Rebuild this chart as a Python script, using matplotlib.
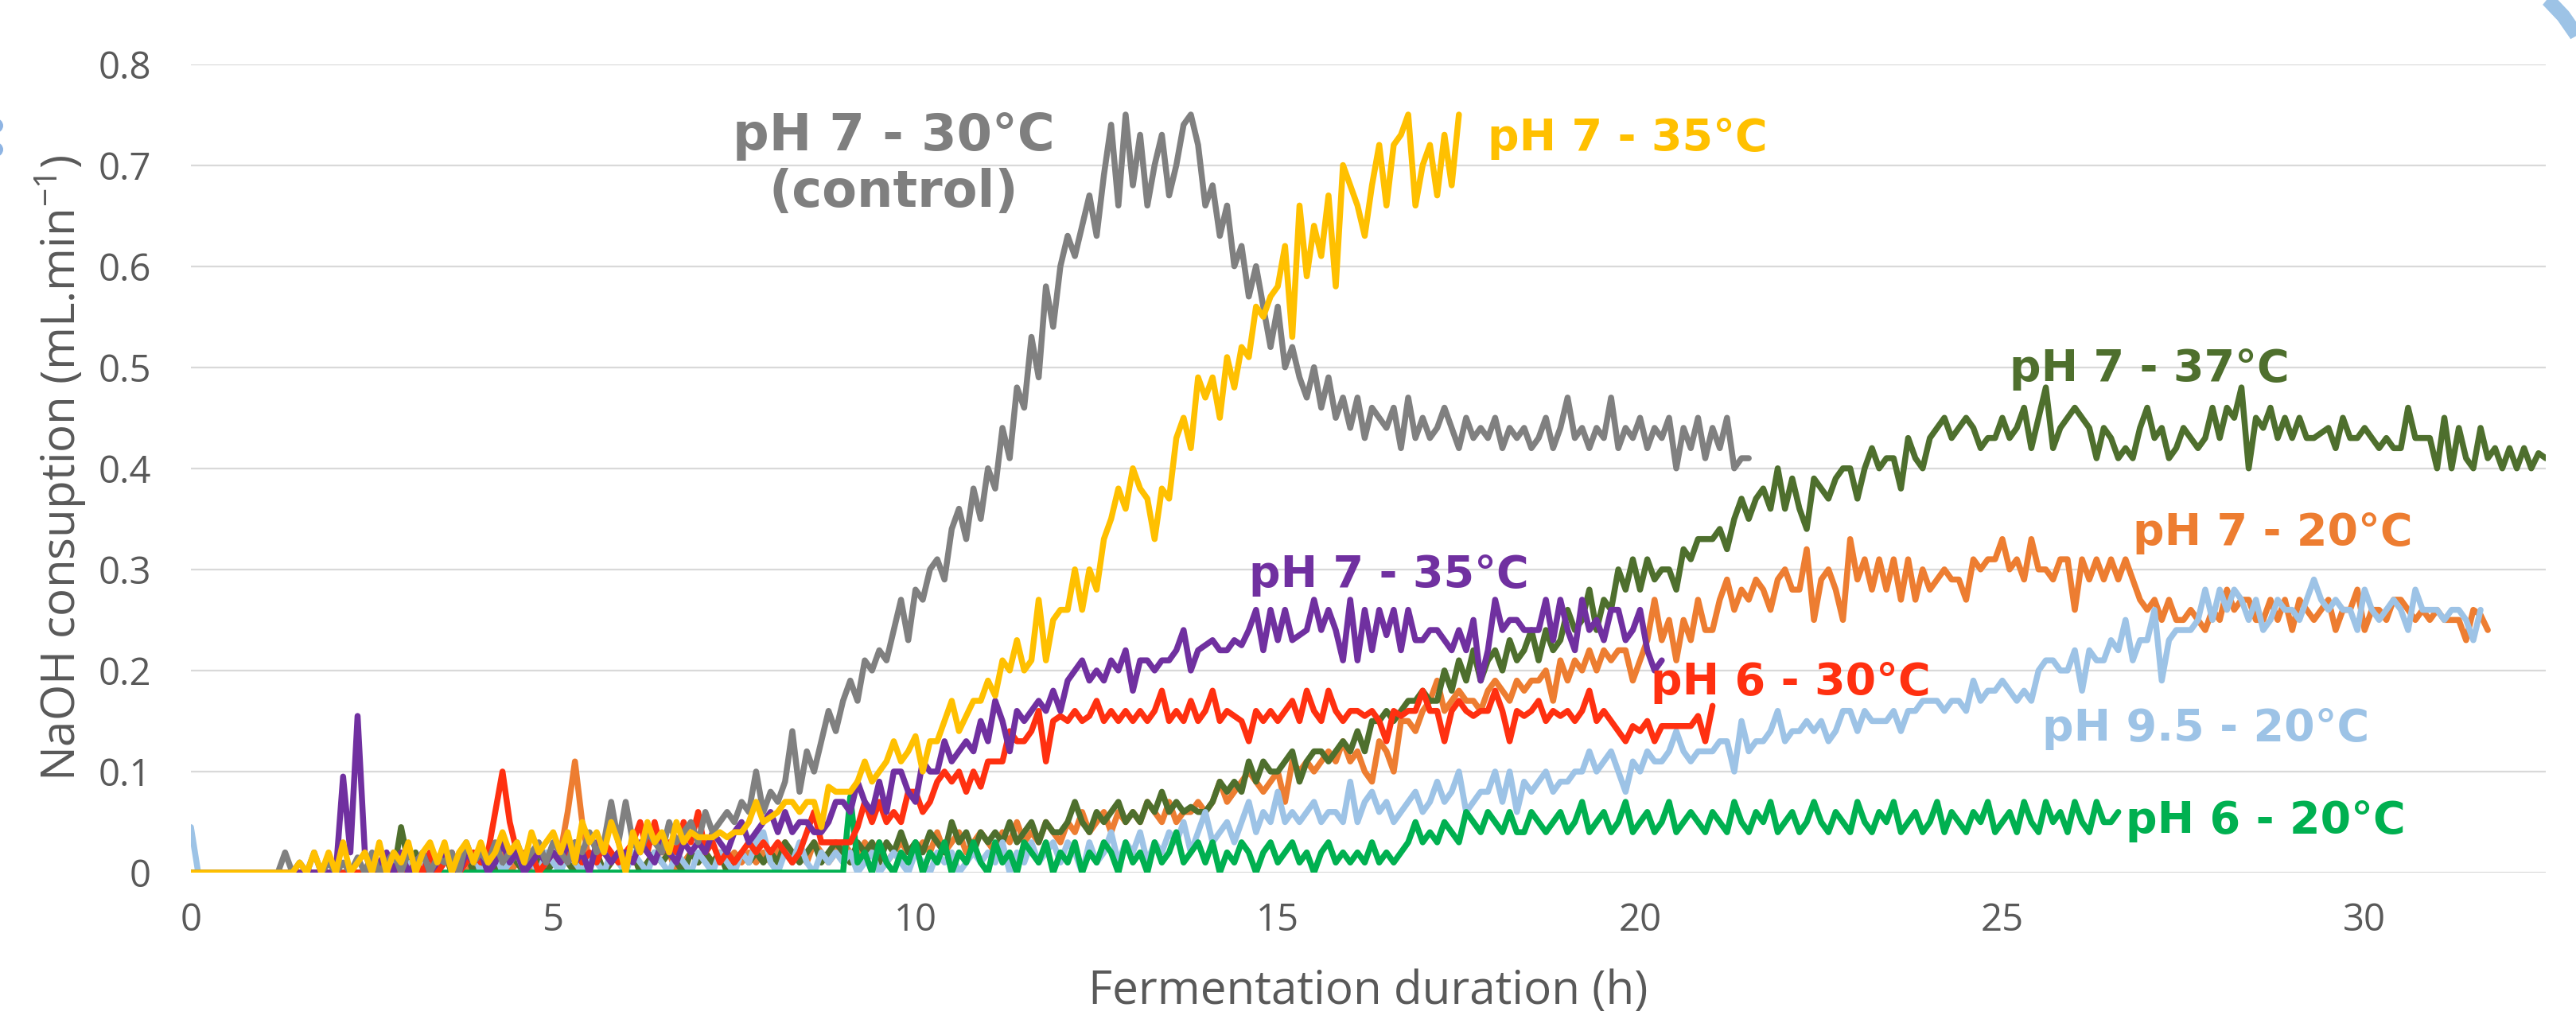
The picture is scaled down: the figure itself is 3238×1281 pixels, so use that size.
import numpy as np
import matplotlib
matplotlib.use("Agg")
import matplotlib.pyplot as plt
from matplotlib.lines import Line2D
from matplotlib.patches import Ellipse

# ---------------- data (NaOH consumption, mL/min, sampled every 0.1 h from t = 0) ----------------
sample_step_h = 0.1

ph7_30_control = [
    0, 0, 0, 0, 0, 0, 0, 0, 0, 0,
    0, 0, 0, 0.02, 0, 0.01, 0, 0.02, 0, 0.01,
    0, 0.01, 0, 0.015, 0, 0.02, 0, 0.01, 0.02, 0,
    0.02, 0.01, 0.02, 0, 0.015, 0.01, 0.02, 0, 0.03, 0.01,
    0.02, 0.01, 0.03, 0.01, 0.02, 0.03, 0.01, 0.02, 0.03, 0.01,
    0.03, 0.02, 0.01, 0.03, 0.02, 0.04, 0.02, 0.03, 0.07, 0.03,
    0.07, 0.03, 0.02, 0.04, 0.03, 0.02, 0.05, 0.03, 0.04, 0.05,
    0.03, 0.06, 0.04, 0.05, 0.06, 0.05, 0.07, 0.06, 0.10, 0.06,
    0.08, 0.07, 0.09, 0.14, 0.08, 0.12, 0.10, 0.13, 0.16, 0.14,
    0.17, 0.19, 0.17, 0.21, 0.20, 0.22, 0.21, 0.24, 0.27, 0.23,
    0.28, 0.27, 0.30, 0.31, 0.29, 0.34, 0.36, 0.33, 0.38, 0.35,
    0.40, 0.38, 0.44, 0.41, 0.48, 0.46, 0.53, 0.49, 0.58, 0.54,
    0.60, 0.63, 0.61, 0.64, 0.67, 0.63, 0.69, 0.74, 0.66, 0.75,
    0.68, 0.73, 0.66, 0.70, 0.73, 0.67, 0.70, 0.74, 0.75, 0.72,
    0.66, 0.68, 0.63, 0.66, 0.60, 0.62, 0.57, 0.60, 0.56, 0.52,
    0.56, 0.50, 0.52, 0.49, 0.47, 0.50, 0.46, 0.49, 0.45, 0.47,
    0.44, 0.47, 0.43, 0.46, 0.45, 0.44, 0.46, 0.42, 0.47, 0.43,
    0.45, 0.43, 0.44, 0.46, 0.44, 0.42, 0.45, 0.43, 0.44, 0.43,
    0.45, 0.42, 0.44, 0.43, 0.44, 0.42, 0.43, 0.45, 0.42, 0.44,
    0.47, 0.43, 0.44, 0.42, 0.44, 0.43, 0.47, 0.42, 0.44, 0.43,
    0.45, 0.42, 0.44, 0.43, 0.45, 0.40, 0.44, 0.42, 0.45, 0.41,
    0.44, 0.42, 0.45, 0.40, 0.41, 0.41,
]

ph7_35_yellow = [
    0, 0, 0, 0, 0, 0, 0, 0, 0, 0,
    0, 0, 0, 0, 0, 0.01, 0, 0.02, 0, 0.02,
    0, 0.03, 0, 0.01, 0.02, 0, 0.03, 0, 0.02, 0.01,
    0.03, 0, 0.02, 0.03, 0.01, 0.03, 0, 0.02, 0.03, 0.01,
    0.03, 0.01, 0.02, 0.04, 0.02, 0.03, 0.01, 0.04, 0.02, 0.03,
    0.04, 0.02, 0.04, 0.01, 0.05, 0.03, 0.04, 0.02, 0.05, 0.03,
    0, 0.04, 0.02, 0.05, 0.03, 0.04, 0.02, 0.05, 0.03, 0.04,
    0.035, 0.035, 0.035, 0.04, 0.035, 0.04, 0.04, 0.05, 0.07, 0.05,
    0.055, 0.06, 0.07, 0.07, 0.06, 0.07, 0.07, 0.045, 0.085, 0.08,
    0.08, 0.08, 0.09, 0.11, 0.09, 0.10, 0.11, 0.13, 0.11, 0.12,
    0.135, 0.10, 0.13, 0.13, 0.15, 0.17, 0.14, 0.155, 0.17, 0.17,
    0.19, 0.175, 0.21, 0.20, 0.23, 0.20, 0.21, 0.27, 0.21, 0.25,
    0.26, 0.26, 0.30, 0.26, 0.30, 0.28, 0.33, 0.35, 0.38, 0.36,
    0.40, 0.38, 0.37, 0.33, 0.38, 0.37, 0.43, 0.45, 0.42, 0.49,
    0.47, 0.49, 0.45, 0.51, 0.48, 0.52, 0.51, 0.56, 0.55, 0.57,
    0.58, 0.62, 0.53, 0.66, 0.59, 0.64, 0.61, 0.67, 0.58, 0.70,
    0.68, 0.66, 0.63, 0.68, 0.72, 0.66, 0.72, 0.73, 0.75, 0.66,
    0.70, 0.72, 0.67, 0.73, 0.68, 0.75,
]

ph7_35_purple = [
    0, 0, 0, 0, 0, 0, 0, 0, 0, 0,
    0, 0, 0, 0, 0, 0, 0, 0, 0, 0,
    0, 0.095, 0.02, 0.155, 0.02, 0, 0.01, 0.02, 0, 0.02,
    0, 0.01, 0.02, 0, 0.01, 0.02, 0.01, 0, 0.02, 0.01,
    0.02, 0, 0.01, 0.03, 0.01, 0.02, 0, 0.01, 0.02, 0.01,
    0.02, 0.01, 0.03, 0.01, 0.02, 0, 0.03, 0.02, 0.01, 0.02,
    0.02, 0.01, 0.03, 0.02, 0.01, 0.03, 0.02, 0.01, 0.03, 0.02,
    0.03, 0.02, 0.04, 0.03, 0.02, 0.04, 0.05, 0.03, 0.04, 0.05,
    0.06, 0.04, 0.06, 0.04, 0.05, 0.05, 0.04, 0.04, 0.05, 0.07,
    0.07, 0.06, 0.09, 0.07, 0.06, 0.09, 0.06, 0.10, 0.10, 0.08,
    0.07, 0.11, 0.10, 0.10, 0.13, 0.11, 0.12, 0.13, 0.12, 0.15,
    0.13, 0.17, 0.15, 0.12, 0.16, 0.15, 0.16, 0.17, 0.16, 0.18,
    0.16, 0.19, 0.20, 0.21, 0.19, 0.20, 0.19, 0.21, 0.20, 0.22,
    0.18, 0.21, 0.21, 0.20, 0.21, 0.21, 0.22, 0.24, 0.20, 0.22,
    0.225, 0.23, 0.22, 0.22, 0.23, 0.225, 0.24, 0.26, 0.22, 0.26,
    0.23, 0.26, 0.23, 0.235, 0.24, 0.27, 0.24, 0.26, 0.24, 0.21,
    0.27, 0.21, 0.26, 0.22, 0.26, 0.235, 0.26, 0.22, 0.26, 0.23,
    0.23, 0.24, 0.24, 0.23, 0.22, 0.24, 0.22, 0.25, 0.19, 0.22,
    0.27, 0.24, 0.25, 0.25, 0.24, 0.24, 0.24, 0.27, 0.23, 0.27,
    0.24, 0.22, 0.27, 0.24, 0.25, 0.23, 0.26, 0.26, 0.23, 0.24,
    0.26, 0.22, 0.20, 0.21,
]

ph6_30_red = [
    0, 0, 0, 0, 0, 0, 0, 0, 0, 0,
    0, 0, 0, 0, 0, 0, 0, 0, 0, 0,
    0, 0, 0, 0, 0, 0, 0, 0.01, 0, 0.01,
    0, 0.01, 0, 0.02, 0, 0.01, 0.02, 0, 0.01, 0.02,
    0.01, 0.02, 0.06, 0.10, 0.05, 0.02, 0.01, 0.02, 0, 0.01,
    0.02, 0.01, 0.02, 0.03, 0.01, 0.02, 0.01, 0.03, 0.02, 0.01,
    0.02, 0.03, 0.05, 0.02, 0.05, 0.02, 0.03, 0.02, 0.05, 0.03,
    0.06, 0.02, 0.03, 0.01, 0.02, 0.01, 0.02, 0.03, 0.02, 0.03,
    0.02, 0.03, 0.02, 0.01, 0.02, 0.04, 0.06, 0.03, 0.03, 0.03,
    0.03, 0.03, 0.045, 0.07, 0.05, 0.07, 0.05, 0.06, 0.05, 0.08,
    0.08, 0.06, 0.07, 0.09, 0.10, 0.09, 0.10, 0.08, 0.10, 0.085,
    0.11, 0.11, 0.11, 0.14, 0.13, 0.13, 0.14, 0.16, 0.11, 0.15,
    0.155, 0.15, 0.16, 0.15, 0.155, 0.17, 0.15, 0.16, 0.15, 0.16,
    0.15, 0.16, 0.15, 0.16, 0.18, 0.15, 0.16, 0.15, 0.17, 0.15,
    0.16, 0.18, 0.15, 0.16, 0.155, 0.15, 0.13, 0.16, 0.15, 0.16,
    0.15, 0.16, 0.17, 0.15, 0.18, 0.16, 0.15, 0.18, 0.16, 0.15,
    0.16, 0.16, 0.155, 0.16, 0.15, 0.13, 0.16, 0.155, 0.16, 0.16,
    0.18, 0.16, 0.16, 0.13, 0.16, 0.17, 0.16, 0.155, 0.16, 0.16,
    0.18, 0.16, 0.13, 0.16, 0.155, 0.16, 0.17, 0.15, 0.16, 0.155,
    0.16, 0.15, 0.16, 0.18, 0.15, 0.16, 0.15, 0.14, 0.13, 0.145,
    0.14, 0.15, 0.13, 0.145, 0.145, 0.145, 0.145, 0.145, 0.155, 0.13,
    0.165,
]

ph7_37_darkgreen = [
    0, 0, 0, 0, 0, 0, 0, 0, 0, 0,
    0, 0, 0, 0, 0, 0, 0, 0, 0, 0,
    0, 0, 0, 0, 0, 0, 0, 0.01, 0, 0.045,
    0.01, 0.02, 0, 0.02, 0.01, 0.02, 0, 0.01, 0.02, 0,
    0.01, 0.02, 0, 0.01, 0.02, 0.01, 0, 0.02, 0.01, 0,
    0.01, 0.02, 0.01, 0, 0.02, 0.01, 0.02, 0, 0.01, 0.02,
    0.01, 0.02, 0, 0.01, 0.02, 0.01, 0.02, 0.01, 0, 0.02,
    0.01, 0.02, 0.01, 0.02, 0, 0.01, 0.02, 0.01, 0.02, 0.01,
    0.02, 0.01, 0.03, 0.02, 0.01, 0.02, 0.03, 0.01, 0.02, 0.03,
    0.02, 0.01, 0.03, 0.02, 0.03, 0.01, 0.03, 0.02, 0.04, 0.02,
    0.03, 0.02, 0.04, 0.03, 0.02, 0.05, 0.03, 0.04, 0.02, 0.04,
    0.03, 0.04, 0.03, 0.05, 0.03, 0.04, 0.05, 0.03, 0.05, 0.04,
    0.04, 0.05, 0.07, 0.05, 0.04, 0.06, 0.05, 0.06, 0.07, 0.05,
    0.06, 0.05, 0.07, 0.06, 0.08, 0.06, 0.07, 0.06, 0.065, 0.06,
    0.06, 0.07, 0.09, 0.08, 0.09, 0.08, 0.11, 0.09, 0.11, 0.10,
    0.10, 0.11, 0.12, 0.09, 0.11, 0.12, 0.12, 0.11, 0.12, 0.13,
    0.12, 0.14, 0.12, 0.15, 0.15, 0.16, 0.15, 0.16, 0.17, 0.17,
    0.18, 0.17, 0.17, 0.20, 0.18, 0.21, 0.19, 0.22, 0.19, 0.21,
    0.22, 0.20, 0.23, 0.21, 0.22, 0.24, 0.21, 0.24, 0.22, 0.23,
    0.26, 0.24, 0.25, 0.28, 0.24, 0.27, 0.26, 0.30, 0.28, 0.31,
    0.28, 0.31, 0.29, 0.30, 0.30, 0.28, 0.32, 0.31, 0.33, 0.33,
    0.33, 0.34, 0.32, 0.35, 0.37, 0.35, 0.37, 0.38, 0.36, 0.40,
    0.36, 0.39, 0.36, 0.34, 0.39, 0.38, 0.37, 0.39, 0.40, 0.40,
    0.37, 0.40, 0.42, 0.40, 0.41, 0.41, 0.38, 0.43, 0.41, 0.40,
    0.43, 0.44, 0.45, 0.43, 0.44, 0.45, 0.44, 0.42, 0.43, 0.43,
    0.45, 0.43, 0.44, 0.46, 0.42, 0.45, 0.48, 0.42, 0.44, 0.45,
    0.46, 0.45, 0.44, 0.41, 0.44, 0.43, 0.41, 0.42, 0.41, 0.44,
    0.46, 0.43, 0.44, 0.41, 0.42, 0.44, 0.43, 0.42, 0.43, 0.46,
    0.43, 0.46, 0.45, 0.48, 0.40, 0.45, 0.44, 0.46, 0.43, 0.45,
    0.43, 0.45, 0.43, 0.43, 0.435, 0.44, 0.42, 0.45, 0.43, 0.43,
    0.44, 0.43, 0.42, 0.43, 0.42, 0.42, 0.46, 0.43, 0.43, 0.43,
    0.40, 0.45, 0.40, 0.44, 0.41, 0.40, 0.44, 0.41, 0.42, 0.40,
    0.42, 0.40, 0.42, 0.40, 0.415, 0.41,
]

ph7_20_orange = [
    0, 0, 0, 0, 0, 0, 0, 0, 0, 0,
    0, 0, 0, 0, 0, 0, 0, 0, 0, 0,
    0, 0, 0, 0, 0, 0, 0, 0, 0, 0,
    0, 0.01, 0, 0.01, 0, 0.02, 0, 0.01, 0, 0.01,
    0.02, 0, 0.01, 0.02, 0, 0.01, 0.02, 0, 0.01, 0.02,
    0.01, 0.02, 0.06, 0.11, 0.05, 0.01, 0.02, 0, 0.01, 0.02,
    0.01, 0.02, 0, 0.01, 0.02, 0.01, 0.02, 0, 0.01, 0.02,
    0.01, 0.02, 0.01, 0.02, 0.01, 0.02, 0.01, 0.02, 0.01, 0.02,
    0.01, 0.02, 0.03, 0.01, 0.02, 0.01, 0.03, 0.02, 0.01, 0.02,
    0.03, 0.02, 0.01, 0.03, 0.02, 0.03, 0.01, 0.02, 0.03, 0.02,
    0.02, 0.03, 0.02, 0.04, 0.02, 0.03, 0.04, 0.02, 0.03, 0.04,
    0.03, 0.02, 0.04, 0.03, 0.05, 0.03, 0.04, 0.03, 0.05, 0.04,
    0.03, 0.05, 0.04, 0.06, 0.04, 0.05, 0.06, 0.04, 0.06, 0.05,
    0.06, 0.05, 0.07, 0.06, 0.05, 0.07, 0.05, 0.06, 0.06, 0.07,
    0.06, 0.07, 0.09, 0.07, 0.08, 0.09, 0.10, 0.09, 0.08, 0.09,
    0.10, 0.07, 0.11, 0.10, 0.11, 0.10, 0.11, 0.12, 0.11, 0.13,
    0.11, 0.12, 0.10, 0.09, 0.13, 0.12, 0.10, 0.15, 0.15, 0.14,
    0.16, 0.17, 0.19, 0.16, 0.17, 0.18, 0.17, 0.17, 0.16, 0.18,
    0.19, 0.18, 0.17, 0.19, 0.18, 0.19, 0.19, 0.20, 0.17, 0.21,
    0.19, 0.21, 0.20, 0.22, 0.20, 0.22, 0.21, 0.22, 0.22, 0.19,
    0.21, 0.23, 0.27, 0.23, 0.25, 0.21, 0.25, 0.23, 0.27, 0.24,
    0.24, 0.27, 0.29, 0.26, 0.28, 0.27, 0.29, 0.28, 0.26, 0.29,
    0.30, 0.28, 0.28, 0.32, 0.25, 0.29, 0.30, 0.28, 0.25, 0.33,
    0.29, 0.31, 0.28, 0.31, 0.28, 0.31, 0.27, 0.31, 0.27, 0.30,
    0.28, 0.29, 0.30, 0.29, 0.29, 0.27, 0.31, 0.30, 0.31, 0.31,
    0.33, 0.30, 0.31, 0.29, 0.33, 0.30, 0.30, 0.29, 0.31, 0.31,
    0.26, 0.31, 0.29, 0.31, 0.29, 0.31, 0.29, 0.31, 0.29, 0.27,
    0.26, 0.27, 0.25, 0.27, 0.25, 0.25, 0.26, 0.25, 0.24, 0.26,
    0.25, 0.28, 0.26, 0.27, 0.27, 0.25, 0.25, 0.27, 0.25, 0.27,
    0.24, 0.27, 0.26, 0.25, 0.26, 0.27, 0.24, 0.26, 0.26, 0.28,
    0.24, 0.26, 0.26, 0.25, 0.27, 0.27, 0.26, 0.25, 0.26, 0.25,
    0.26, 0.25, 0.25, 0.25, 0.23, 0.26, 0.255, 0.24,
]

ph95_20_lightblue = [
    0.045, 0, 0, 0, 0, 0, 0, 0, 0, 0,
    0, 0, 0, 0, 0, 0, 0, 0, 0, 0,
    0, 0, 0, 0, 0, 0.01, 0, 0, 0.01, 0,
    0.01, 0, 0.01, 0, 0, 0.01, 0.02, 0, 0.01, 0.02,
    0, 0.01, 0.02, 0, 0.01, 0.02, 0, 0.01, 0, 0.02,
    0.01, 0, 0.02, 0.01, 0, 0.02, 0.01, 0, 0.02, 0.01,
    0, 0.02, 0.01, 0, 0.02, 0.01, 0, 0.02, 0.01, 0,
    0.02, 0.01, 0, 0.02, 0.01, 0, 0.02, 0.01, 0.03, 0.04,
    0.01, 0, 0.02, 0.01, 0.03, 0.01, 0, 0.02, 0.01, 0.02,
    0.01, 0.02, 0, 0.01, 0.02, 0, 0.01, 0.02, 0.01, 0,
    0.02, 0.01, 0, 0.02, 0.01, 0.02, 0, 0.01, 0.02, 0.01,
    0.02, 0.01, 0.03, 0, 0.02, 0.01, 0.03, 0.01, 0.02, 0.03,
    0.01, 0.03, 0.02, 0, 0.03, 0.01, 0.02, 0.04, 0.01, 0.03,
    0.02, 0.04, 0.01, 0.03, 0.02, 0.04, 0.03, 0.05, 0.02, 0.04,
    0.06, 0.03, 0.04, 0.05, 0.03, 0.05, 0.07, 0.04, 0.06, 0.05,
    0.08, 0.05, 0.06, 0.05, 0.06, 0.07, 0.05, 0.06, 0.06, 0.05,
    0.09, 0.05, 0.07, 0.08, 0.06, 0.07, 0.05, 0.06, 0.07, 0.08,
    0.06, 0.07, 0.09, 0.07, 0.08, 0.10, 0.06, 0.07, 0.08, 0.08,
    0.10, 0.07, 0.10, 0.06, 0.09, 0.08, 0.09, 0.10, 0.08, 0.09,
    0.09, 0.10, 0.10, 0.12, 0.10, 0.11, 0.12, 0.10, 0.08, 0.11,
    0.10, 0.12, 0.11, 0.11, 0.12, 0.14, 0.12, 0.11, 0.12, 0.12,
    0.12, 0.13, 0.13, 0.10, 0.15, 0.12, 0.13, 0.13, 0.14, 0.16,
    0.13, 0.14, 0.14, 0.15, 0.14, 0.15, 0.13, 0.14, 0.16, 0.16,
    0.14, 0.16, 0.15, 0.15, 0.15, 0.16, 0.14, 0.16, 0.16, 0.17,
    0.17, 0.17, 0.16, 0.17, 0.17, 0.16, 0.19, 0.17, 0.18, 0.18,
    0.19, 0.18, 0.17, 0.18, 0.17, 0.20, 0.21, 0.21, 0.20, 0.20,
    0.22, 0.18, 0.22, 0.21, 0.21, 0.23, 0.22, 0.25, 0.21, 0.23,
    0.23, 0.26, 0.19, 0.23, 0.24, 0.24, 0.24, 0.25, 0.28, 0.25,
    0.28, 0.26, 0.28, 0.27, 0.25, 0.27, 0.24, 0.25, 0.27, 0.26,
    0.26, 0.25, 0.27, 0.29, 0.27, 0.26, 0.27, 0.26, 0.26, 0.24,
    0.28, 0.26, 0.25, 0.26, 0.27, 0.26, 0.24, 0.28, 0.26, 0.26,
    0.26, 0.25, 0.26, 0.26, 0.25, 0.23, 0.26,
]

ph6_20_green = [
    0, 0, 0, 0, 0, 0, 0, 0, 0, 0,
    0, 0, 0, 0, 0, 0, 0, 0, 0, 0,
    0, 0, 0, 0, 0, 0, 0, 0, 0, 0,
    0, 0, 0, 0, 0, 0, 0, 0, 0, 0,
    0, 0, 0, 0, 0, 0, 0, 0, 0, 0,
    0, 0, 0, 0, 0, 0, 0, 0, 0, 0,
    0, 0, 0, 0, 0, 0, 0, 0, 0, 0,
    0, 0, 0, 0, 0, 0, 0, 0, 0, 0,
    0, 0, 0, 0, 0, 0, 0, 0, 0, 0,
    0, 0.075, 0.01, 0.02, 0, 0.03, 0.01, 0, 0.02, 0.01,
    0.03, 0, 0.02, 0.01, 0.03, 0, 0.02, 0.01, 0.03, 0.01,
    0, 0.03, 0.01, 0.02, 0, 0.03, 0.02, 0.01, 0.03, 0,
    0.02, 0.01, 0.03, 0, 0.02, 0.01, 0.03, 0.02, 0, 0.03,
    0.01, 0.02, 0, 0.03, 0.01, 0.02, 0.04, 0.01, 0.02, 0.03,
    0.01, 0.03, 0, 0.02, 0.01, 0.03, 0.02, 0, 0.02, 0.03,
    0.01, 0.02, 0.03, 0.01, 0.02, 0, 0.02, 0.03, 0.01, 0.02,
    0.01, 0.02, 0.01, 0.03, 0.01, 0.02, 0.01, 0.02, 0.03, 0.05,
    0.03, 0.04, 0.03, 0.05, 0.04, 0.03, 0.06, 0.05, 0.04, 0.06,
    0.05, 0.04, 0.06, 0.04, 0.04, 0.06, 0.05, 0.04, 0.05, 0.06,
    0.04, 0.05, 0.07, 0.04, 0.05, 0.06, 0.04, 0.05, 0.07, 0.04,
    0.05, 0.06, 0.04, 0.05, 0.07, 0.04, 0.05, 0.06, 0.05, 0.04,
    0.06, 0.05, 0.04, 0.07, 0.05, 0.04, 0.06, 0.05, 0.07, 0.04,
    0.05, 0.06, 0.04, 0.05, 0.07, 0.05, 0.04, 0.06, 0.05, 0.04,
    0.07, 0.05, 0.04, 0.06, 0.05, 0.07, 0.04, 0.05, 0.06, 0.04,
    0.05, 0.07, 0.04, 0.06, 0.05, 0.04, 0.06, 0.05, 0.07, 0.04,
    0.05, 0.06, 0.04, 0.07, 0.05, 0.04, 0.07, 0.05, 0.06, 0.04,
    0.07, 0.05, 0.04, 0.07, 0.05, 0.05, 0.06,
]

x_ticks = [0, 5, 10, 15, 20, 25, 30]
y_ticks = [0, 0.1, 0.2, 0.3, 0.4, 0.5, 0.6, 0.7, 0.8]
y_tick_labels = ["0", "0.1", "0.2", "0.3", "0.4", "0.5", "0.6", "0.7", "0.8"]

# series in drawing order: (values, colour)
series = [
    (ph7_20_orange, "#ED7D31"),
    (ph7_37_darkgreen, "#4E6F2D"),
    (ph95_20_lightblue, "#9DC3E6"),
    (ph6_20_green, "#00B050"),
    (ph6_30_red, "#FF3010"),
    (ph7_35_purple, "#7030A0"),
    (ph7_30_control, "#808080"),
    (ph7_35_yellow, "#FFC000"),
]

# labels: (text, x, baseline y, colour, size, alignment)
labels = [
    ("pH 7 - 30°C", 9.7, 0.7145, "#7F7F7F", 46, "center"),
    ("(control)", 9.7, 0.6585, "#7F7F7F", 46, "center"),
    ("pH 7 - 35°C", 17.9, 0.7145, "#FFC000", 40, "left"),
    ("pH 7 - 35°C", 14.6, 0.2825, "#7030A0", 40, "left"),
    ("pH 6 - 30°C", 20.15, 0.1765, "#FF3010", 40, "left"),
    ("pH 7 - 37°C", 25.1, 0.4865, "#4E6F2D", 40, "left"),
    ("pH 7 - 20°C", 26.8, 0.3245, "#ED7D31", 40, "left"),
    ("pH 9.5 - 20°C", 25.55, 0.1305, "#9DC3E6", 40, "left"),
    ("pH 6 - 20°C", 26.7, 0.0395, "#00B050", 40, "left"),
]

# ---------------- figure ----------------
plt.rcParams["mathtext.fontset"] = "custom"
plt.rcParams["mathtext.rm"] = "Open Sans"
plt.rcParams["mathtext.it"] = "Open Sans"
plt.rcParams["mathtext.bf"] = "Open Sans"

W, H = 3238, 1281
fig = plt.figure(figsize=(W / 100, H / 100), dpi=100)
ax = fig.add_axes([240 / W, 1 - 1097 / H, (3200 - 240) / W, (1097 - 80.5) / H])

for vals, col in series:
    t = np.arange(len(vals)) * sample_step_h
    ax.plot(t, vals, color=col, lw=5.4, solid_joinstyle="round", solid_capstyle="round")

ax.set_xlim(0, 32.5)
ax.set_ylim(0, 0.8)
ax.set_xticks(x_ticks)
ax.set_xticklabels([str(v) for v in x_ticks])
ax.set_yticks(y_ticks)
ax.set_yticklabels(y_tick_labels)
for s in ax.spines.values():
    s.set_visible(False)
ax.grid(axis="y", color="#D9D9D9", lw=1.6)
ax.set_axisbelow(True)
ax.tick_params(axis="both", length=0, labelsize=34, labelcolor="#595959")
ax.tick_params(axis="x", pad=26)
ax.tick_params(axis="y", pad=36)
for lab in ax.get_xticklabels() + ax.get_yticklabels():
    lab.set_family("Open Sans")

fig.text(1720 / W, 1 - 1247 / H, "Fermentation duration (h)", ha="center", va="center",
         fontsize=42, color="#595959", family="Open Sans")
fig.text(76 / W, 1 - 588 / H, r"NaOH consuption (mL.min$^{-1}$)", ha="center", va="center",
         rotation=90, fontsize=42, color="#595959", family="Open Sans")

for txt, x, y, col, fs, ha in labels:
    ax.text(x, y, txt, color=col, fontsize=fs, fontweight="bold", family="DejaVu Sans",
            ha=ha, va="baseline")

# decorative slide shapes at the edges
fig.add_artist(Line2D([3193 / W, 3203 / W, 3222 / W, 3238 / W, 3246 / W],
                      [1 + 8 / H, 1 - 0 / H, 1 - 20 / H, 1 - 43 / H, 1 - 57 / H],
                      transform=fig.transFigure, color="#9DC3E6", lw=13,
                      solid_capstyle="butt", solid_joinstyle="round"))
for yc in (158, 188):
    fig.add_artist(Ellipse((-5 / W, 1 - yc / H), 18 / W, 18 / H, transform=fig.transFigure,
                           facecolor="#8EB4E3", edgecolor="none"))

fig.savefig("out.png", dpi=100, facecolor="white")
